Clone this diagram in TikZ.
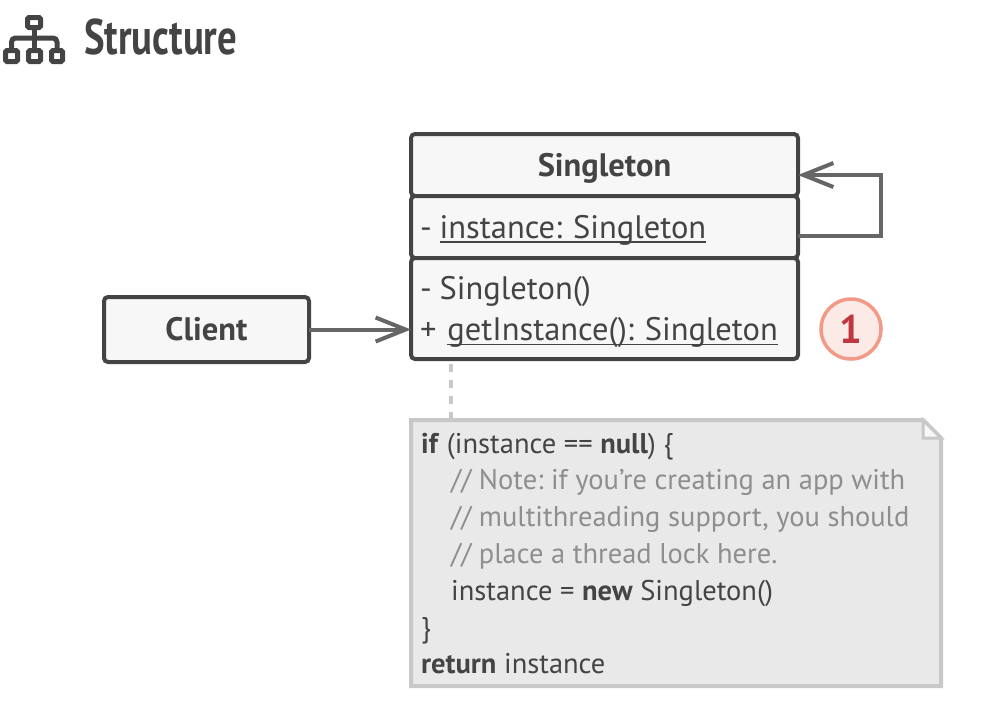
\documentclass[tikz,border=0pt]{standalone}
\usepackage{graphicx}
\usepackage{fontspec}
\setmainfont{PT Sans}
\usetikzlibrary{arrows.meta,calc}
\definecolor{ink}{HTML}{444444}
\definecolor{edge}{HTML}{666666}
\definecolor{boxfill}{HTML}{F7F7F7}
\definecolor{notefill}{HTML}{E9E9E9}
\definecolor{noteline}{HTML}{C8C8C8}
\definecolor{cmt}{HTML}{8E8E8E}
\definecolor{badgeline}{HTML}{F29A87}
\definecolor{badgefill}{HTML}{FBEAE6}
\definecolor{badgetext}{HTML}{C0383F}
\newsavebox{\ulbox}
\newcommand{\myul}[1]{\sbox{\ulbox}{#1}\rlap{\rule[-4.4pt]{\wd\ulbox}{1.7pt}}\usebox{\ulbox}}
\newcommand{\cm}[1]{\textcolor{cmt}{#1}}
\tikzset{
  x=1pt,y=-1pt,
  umlbox/.style={draw=ink,fill=boxfill,line width=4pt,rounded corners=4pt,inner sep=0pt,outer sep=0pt,
    text=ink,font=\fontsize{32.5}{41}\selectfont},
  rowtext/.style={umlbox,minimum width=387pt,text width=369pt,align=left},
  conn/.style={draw=edge,line width=4pt,-{Straight Barb[length=30pt,width=24pt,line width=4pt]}},
  dashline/.style={draw=noteline,line width=4pt,dash pattern=on 8pt off 8pt},
  notebody/.style={draw=noteline,fill=notefill,line width=4pt,line join=miter},
  badge/.style={circle,draw=badgeline,fill=badgefill,line width=3.5pt,minimum size=60pt,inner sep=0pt,outer sep=0pt,
    text=badgetext,font=\fontsize{40}{40}\selectfont\bfseries},
  iconbox/.style={draw=ink,line width=5pt,rounded corners=1.5pt}
}
\begin{document}
\frenchspacing
\begin{tikzpicture}
\useasboundingbox (0,0) rectangle (998,716);
% title icon
\draw[iconbox] (27.5,17.5) rectangle (40.5,27.5);
\draw[iconbox] (5.5,50.5) rectangle (17.5,61.5);
\draw[iconbox] (28.5,50.5) rectangle (40.5,61.5);
\draw[iconbox] (51.5,50.5) rectangle (62.5,61.5);
\draw[draw=ink,line width=5pt] (34,27.5) -- (34,50.5);
\draw[draw=ink,line width=5pt,rounded corners=4pt] (11.5,50.5) -- (11.5,38) -- (57,38) -- (57,50.5);
\node[anchor=base west,inner sep=0pt,text=ink,font=\fontsize{50}{50}\selectfont\bfseries] (title) at (84,54) {\scalebox{.775}[1]{Structure}};
% classes
\node[umlbox,minimum width=387pt,minimum height=62pt,anchor=north west,font=\fontsize{32.5}{41}\selectfont\bfseries] (head) at (411,134) {\rule{0pt}{30pt}Singleton};
\node[rowtext,minimum height=62pt,anchor=north west] (attr) at (411,196) {\rule{0pt}{30pt}-\kern8pt\myul{instance: Singleton}};
\node[rowtext,minimum height=101pt,anchor=north west] (meth) at (411,258) {\rule{0pt}{31pt}-\kern8pt Singleton()\\+\kern11pt\myul{getInstance(): Singleton}};
\node[umlbox,minimum width=205pt,minimum height=65pt,anchor=north west,font=\fontsize{32.5}{41}\selectfont\bfseries] (client) at (104,297) {Client};
\node[badge] (one) at (851,329) {1};
% note
\node[minimum width=530pt,minimum height=266pt,inner sep=0pt,outer sep=0pt,anchor=north west] (note) at (411,420) {};
\coordinate (dashtop) at ($(meth.south west)+(40,5)$);
\draw[dashline] (dashtop) -- (dashtop|-note.north);
\draw[notebody] (note.north west) -- ($(note.north east)+(-18,0)$) -- ($(note.north east)+(0,18)$) -- (note.south east) -- (note.south west) -- cycle;
\draw[draw=noteline,fill=boxfill,line width=3pt,line join=miter] ($(note.north east)+(-18,0)$) -- ($(note.north east)+(0,18)$) -- ($(note.north east)+(-18,18)$) -- cycle;
\node[anchor=north west,inner sep=0pt,text=ink,align=left,font=\fontsize{28.5}{36.8}\selectfont] (code) at (421,432.5)
{\textbf{if} (instance == \textbf{null}) \{\\
\hspace*{30pt}\cm{// Note: if you’re creating an app with}\\
\hspace*{30pt}\cm{// multithreading support, you should}\\
\hspace*{30pt}\cm{// place a thread lock here.}\\
\hspace*{30pt}instance = \textbf{new} Singleton()\\
\}\\
\textbf{return} instance};
% connectors
\draw[conn] (client.east) -- (meth.west|-client.east);
\draw[conn] ($(attr.east)+(0,9)$) -- ++(83,0) |- ($(head.east)+(0,10)$);
\end{tikzpicture}
\end{document}
